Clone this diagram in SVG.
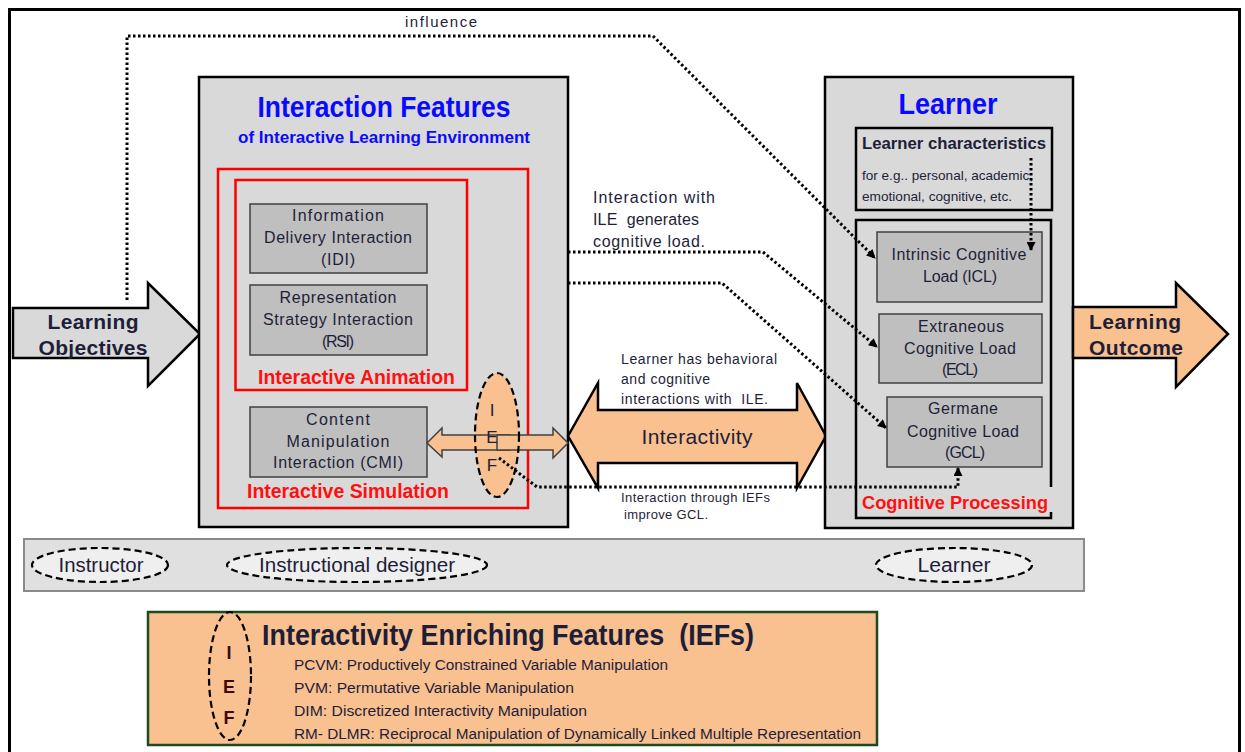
<svg xmlns="http://www.w3.org/2000/svg" width="1245" height="752" viewBox="0 0 1245 752">
<defs>
<style>
text{font-family:"Liberation Sans",Arial,sans-serif;fill:#1e1e38}
.b{font-weight:bold}
.blue{fill:#0a0aff;font-weight:bold}
.red{fill:#ff1010;font-weight:bold}
.gbox{fill:#bfbfbf;stroke:#404040;stroke-width:1.5}
.panel{fill:#d9d9d9;stroke:#000;stroke-width:2.5}
.redbox{fill:none;stroke:#ff0000;stroke-width:2.5}
.dot{fill:none;stroke:#000;stroke-width:3;stroke-dasharray:2.5 2.5}
.orange{fill:#f9c090}
.dash{fill:none;stroke:#000;stroke-width:2.2;stroke-dasharray:7 4}
.s14{font-size:16px}
.mid{text-anchor:middle}
</style>
<marker id="ah" viewBox="0 0 10 10" refX="9" refY="5" markerWidth="10" markerHeight="9" markerUnits="userSpaceOnUse" orient="auto">
<path d="M0,0 L10,5 L0,10 Z" fill="#000"/>
</marker>
</defs>
<rect width="1245" height="752" fill="#fff"/>
<rect x="9.5" y="9.5" width="1230" height="760" fill="none" stroke="#000" stroke-width="3"/>

<g id="learning-objectives">
<polygon points="13,308 148,308 148,283 200,334 148,386 148,358 13,358" fill="#d9d9d9" stroke="#000" stroke-width="2.5"/>
<text class="b" x="93" y="329" font-size="21" text-anchor="middle" textLength="91">Learning</text>
<text class="b" x="93" y="355" font-size="21" text-anchor="middle" textLength="109">Objectives</text>
</g>

<g id="interaction-features">
<rect class="panel" x="199" y="77" width="369" height="450"/>
<text class="blue" x="384" y="117" font-size="29" text-anchor="middle" textLength="253" lengthAdjust="spacingAndGlyphs">Interaction Features</text>
<text class="blue" x="384" y="143" font-size="17" text-anchor="middle" textLength="292" lengthAdjust="spacingAndGlyphs">of Interactive Learning Environment</text>
<rect class="redbox" x="218" y="169" width="310" height="339"/>
<rect class="redbox" x="235.5" y="180" width="231.5" height="210"/>
<text class="red" x="258" y="384" font-size="20" textLength="197" lengthAdjust="spacingAndGlyphs">Interactive  Animation</text>
<text class="red" x="247" y="498" font-size="20" textLength="202" lengthAdjust="spacingAndGlyphs">Interactive  Simulation</text>
</g>

<g id="idi">
<rect class="gbox" x="250" y="204" width="177" height="69"/>
<text class="s14 mid" x="338" y="221" textLength="92">Information</text>
<text class="s14 mid" x="338" y="243" textLength="148">Delivery Interaction</text>
<text class="s14 mid" x="338" y="265" textLength="34">(IDI)</text>
</g>
<g id="rsi">
<rect class="gbox" x="250" y="285" width="177" height="70"/>
<text class="s14 mid" x="338" y="303" textLength="117">Representation</text>
<text class="s14 mid" x="338" y="325" textLength="150">Strategy Interaction</text>
<text class="s14 mid" x="338" y="347" textLength="32">(RSI)</text>
</g>
<g id="cmi">
<rect class="gbox" x="250" y="407" width="177" height="70"/>
<text class="s14 mid" x="338" y="425" textLength="64">Content</text>
<text class="s14 mid" x="338" y="447" textLength="103">Manipulation</text>
<text class="s14 mid" x="338" y="468" textLength="130">Interaction (CMI)</text>
</g>

<g id="ief-main">
<ellipse cx="497" cy="435" rx="22" ry="62" class="orange"/>
<polygon points="427,443 442,428 442,435 510,435 510,450 442,450 442,457" fill="#f9c090" stroke="#404040" stroke-width="1.5"/>
<polygon points="497,435 553,435 553,428 568,443 553,458 553,450 497,450" fill="#f9c090" stroke="#404040" stroke-width="1.5"/>
<ellipse cx="497" cy="435" rx="22" ry="62" class="dash"/>
<text x="492" y="416" font-size="17" text-anchor="middle">I</text>
<text x="492" y="443" font-size="17" text-anchor="middle">E</text>
<text x="492" y="471" font-size="17" text-anchor="middle">F</text>
</g>

<g id="interactivity">
<polygon points="568,436 598,383 598,410 797,410 797,383 826,436 797,488 797,463 598,463 598,488" fill="#f9c090" stroke="#000" stroke-width="2.5"/>
<text x="697" y="444" font-size="21" text-anchor="middle" textLength="111">Interactivity</text>
</g>

<g id="learner">
<rect class="panel" x="825" y="77" width="248" height="451"/>
<text class="blue" x="948" y="114" font-size="30" text-anchor="middle" textLength="99" lengthAdjust="spacingAndGlyphs">Learner</text>
<rect x="856" y="128" width="196" height="82" fill="#d9d9d9" stroke="#000" stroke-width="2.5"/>
<text class="b" x="862" y="149" font-size="17" textLength="184" lengthAdjust="spacingAndGlyphs">Learner characteristics</text>
<text x="862" y="180" font-size="13" textLength="171" lengthAdjust="spacingAndGlyphs">for e.g.. personal, academic,</text>
<text x="862" y="201" font-size="13" textLength="150" lengthAdjust="spacingAndGlyphs">emotional, cognitive, etc.</text>
<path d="M1051,487 V220 H856 V518 H1051 V512" fill="none" stroke="#000" stroke-width="2.5"/>
<text class="red" x="862" y="509" font-size="19" textLength="186" lengthAdjust="spacingAndGlyphs">Cognitive Processing</text>
</g>
<g id="icl">
<rect class="gbox" x="877" y="232" width="165" height="70"/>
<text class="s14 mid" x="959" y="260" textLength="135">Intrinsic Cognitive</text>
<text class="s14 mid" x="960" y="282" textLength="74">Load (ICL)</text>
</g>
<g id="ecl">
<rect class="gbox" x="879" y="314" width="163" height="69"/>
<text class="s14 mid" x="961" y="332" textLength="86">Extraneous</text>
<text class="s14 mid" x="960" y="354" textLength="112">Cognitive Load</text>
<text class="s14 mid" x="960" y="375" textLength="36">(ECL)</text>
</g>
<g id="gcl">
<rect class="gbox" x="887" y="397" width="155" height="70"/>
<text class="s14 mid" x="963" y="414" textLength="70">Germane</text>
<text class="s14 mid" x="963" y="437" textLength="112">Cognitive Load</text>
<text class="s14 mid" x="965" y="458" textLength="40">(GCL)</text>
</g>

<g id="learning-outcome">
<polygon points="1073,307 1176,307 1176,283 1228,334 1176,387 1176,358 1073,358" fill="#f9c090" stroke="#000" stroke-width="2.5"/>
<text class="b" x="1089" y="329" font-size="21" textLength="92">Learning</text>
<text class="b" x="1089" y="355" font-size="21" textLength="94">Outcome</text>
</g>

<g id="connectors">
<path class="dot" d="M127,300 V36 H653 L875,258" marker-end="url(#ah)"/>
<path class="dot" d="M568,252 H763 L877,347" marker-end="url(#ah)"/>
<path class="dot" d="M568,283 H722 L886,428" marker-end="url(#ah)"/>
<path class="dot" d="M499,458 L537,487 H958 V468" marker-end="url(#ah)"/>
<path class="dot" d="M1031,158 V250" marker-end="url(#ah)"/>
</g>

<g id="labels">
<text x="405" y="27" font-size="15" textLength="72">influence</text>
<text x="593" y="203" font-size="16" textLength="122">Interaction with</text>
<text x="593" y="225" font-size="16" textLength="106" xml:space="preserve">ILE  generates</text>
<text x="593" y="247" font-size="16" textLength="112">cognitive load.</text>
<text x="621" y="364" font-size="14" textLength="156">Learner has behavioral</text>
<text x="621" y="384" font-size="14" textLength="89">and cognitive</text>
<text x="621" y="404" font-size="14" textLength="147" xml:space="preserve">interactions with  ILE.</text>
<text x="621" y="502" font-size="13" textLength="149">Interaction through IEFs</text>
<text x="624" y="519" font-size="13" textLength="84">improve GCL.</text>
</g>

<g id="actors">
<rect x="24" y="539" width="1060" height="52" fill="#e0e0e0" stroke="#8a8a8a" stroke-width="2"/>
<ellipse cx="100" cy="565" rx="68" ry="17" class="dash" style="fill:#efefef"/>
<text x="101" y="572" font-size="20" text-anchor="middle" textLength="85" lengthAdjust="spacingAndGlyphs">Instructor</text>
<ellipse cx="357" cy="565" rx="130" ry="17" class="dash" style="fill:#efefef"/>
<text x="357" y="572" font-size="20" text-anchor="middle" textLength="196" lengthAdjust="spacingAndGlyphs">Instructional designer</text>
<ellipse cx="954" cy="565" rx="78" ry="17" class="dash" style="fill:#efefef"/>
<text x="954" y="572" font-size="20" text-anchor="middle" textLength="73" lengthAdjust="spacingAndGlyphs">Learner</text>
</g>

<g id="ief-legend">
<rect x="148" y="612" width="729" height="133" fill="#f9c090" stroke="#1e4a1e" stroke-width="2.5"/>
<ellipse cx="230" cy="676" rx="21" ry="64" class="dash"/>
<text x="229" y="659" font-size="18" text-anchor="middle" class="b" style="fill:#3a0a0a">I</text>
<text x="229" y="693" font-size="18" text-anchor="middle" class="b" style="fill:#3a0a0a">E</text>
<text x="229" y="724" font-size="18" text-anchor="middle" class="b" style="fill:#3a0a0a">F</text>
<text class="b" x="262" y="645" font-size="29" textLength="492" lengthAdjust="spacingAndGlyphs" xml:space="preserve">Interactivity Enriching Features  (IEFs)</text>
<text x="294" y="670" font-size="14" textLength="374" lengthAdjust="spacingAndGlyphs">PCVM: Productively Constrained Variable Manipulation</text>
<text x="294" y="693" font-size="14" textLength="280" lengthAdjust="spacingAndGlyphs">PVM: Permutative Variable Manipulation</text>
<text x="294" y="716" font-size="14" textLength="293" lengthAdjust="spacingAndGlyphs">DIM: Discretized Interactivity Manipulation</text>
<text x="294" y="739" font-size="14" textLength="567" lengthAdjust="spacingAndGlyphs">RM- DLMR: Reciprocal Manipulation of Dynamically Linked Multiple Representation</text>
</g>
</svg>
